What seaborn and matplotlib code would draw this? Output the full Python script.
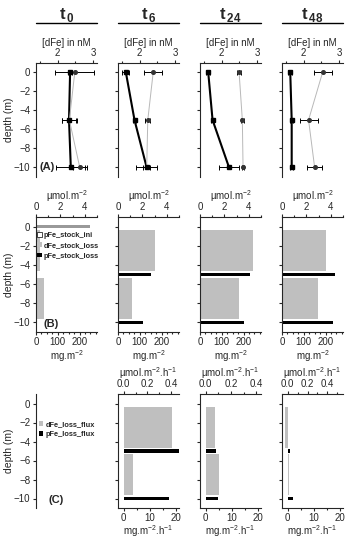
import numpy as np
import pandas as pd
import matplotlib
matplotlib.use("Agg")
import matplotlib.pyplot as plt
import seaborn as sns
from matplotlib.lines import Line2D
from matplotlib.patches import Patch

sns.set_style("ticks")
plt.rcParams['font.family'] = ['Liberation Sans', 'DejaVu Sans']
plt.rcParams['mathtext.fontset'] = 'custom'
plt.rcParams['mathtext.rm'] = 'Liberation Sans'
plt.rcParams['mathtext.bf'] = 'Liberation Sans:bold'
plt.rcParams['axes.linewidth'] = 0.8

#############################################################################
# data
times = ['0', '6', '24', '48']
depths = [0, -5, -10]
layers = [-2.5, -7.5]          # centre of the 0-5 m and 5-10 m layers
bottoms = [-5, -10]

# (A) dFe profiles, nM
dfe_dark = [[2.35, 2.32, 2.37], [1.62, 1.86, 2.20], [1.63, 1.75, 2.21], [1.63, 1.67, 1.67]]
dfe_dark_err = [[0.05, 0.20, 0.40], [0.10, 0.05, 0.30], [0.05, 0.05, 0.27], [0.05, 0.05, 0.05]]
dfe_light = [[2.48, 2.33, 2.62], [2.38, 2.23, 2.20], [2.49, 2.58, 2.60], [2.53, 2.14, 2.31]]
dfe_light_err = [[0.55, 0.20, 0.20], [0.25, 0.07, 0.10], [0.06, 0.05, 0.02], [0.25, 0.25, 0.20]]

# (B) stocks, mg.m-2
pfe_stock_ini = [250, 0, 0, 0]
dfe_stock_loss = [[18, 36], [169, 63], [243, 177], [203, 164]]
pfe_stock_loss = [[0, 0], [151, 115], [228, 203], [245, 233]]

# (C) loss fluxes, mg.m-2.h-1 (t6, t24, t48)
dfe_loss_flux = [[18.4, 3.4], [3.5, 5.0], [-1.0, 0.3]]
pfe_loss_flux = [[21.5, 17.1], [4.0, 4.6], [1.0, 1.9]]
flux_ratio = [45.0, 48.0, 37.5]   # mg per umol on the top axis
stock_ratio = 55.85

#############################################################################
fig = plt.figure(figsize=(3.46, 5.40), dpi=100)
W, H = 346., 540.
lefts = [36, 118, 200, 282]
aw = 61
row_tb = {'A': (63, 177), 'B': (217, 332), 'C': (394, 508)}

light = '#bfbfbf'
fs = 7


def make_ax(col, row):
    top, bot = row_tb[row]
    return fig.add_axes([lefts[col] / W, 1 - bot / H, aw / W, (bot - top) / H])


def depth_axis(ax, col):
    ax.set_ylim(-11, 1)
    ax.set_yticks([0, -2, -4, -6, -8, -10])
    ax.tick_params(axis='y', length=2.5, width=0.8, labelsize=fs, pad=1.5)
    ax.spines['right'].set_visible(False)
    if col == 0:
        ax.set_yticklabels(['0', '−2', '−4', '−6', '−8', '−10'])
        ax.set_ylabel('depth (m)', fontsize=7.5)
        ax.yaxis.set_label_coords(-0.36, 0.5)
    else:
        ax.set_yticklabels([])
        ax.set_ylabel('')
    ax.set_xlabel('')


def x_ticks(axis_obj):
    axis_obj.tick_params(axis='x', which='major', length=2.5, width=0.8, labelsize=fs, pad=0.8)
    axis_obj.tick_params(axis='x', which='minor', length=1.5, width=0.8)


# titles with lines
for i, t in enumerate(times):
    cx = (lefts[i] + aw / 2) / W
    fig.text(cx, 1 - 15 / H, r'$\mathbf{t}_{\,\mathbf{' + t + '}}$', ha='center', va='center', fontsize=12)
    fig.add_artist(Line2D([lefts[i] / W, (lefts[i] + aw) / W], [1 - 23 / H, 1 - 23 / H],
                          transform=fig.transFigure, color='black', lw=1.0))

# (A)
for i in range(4):
    ax = make_ax(i, 'A')
    df = pd.DataFrame({'depth': depths * 2,
                       'dfe': dfe_dark[i] + dfe_light[i],
                       'series': ['dark'] * 3 + ['light'] * 3})
    sns.lineplot(data=df, x='dfe', y='depth', hue='series', palette={'dark': 'black', 'light': '#b8b8b8'},
                 size='series', sizes={'dark': 1.5, 'light': 0.7}, sort=False, orient='y',
                 legend=False, ax=ax)
    ax.errorbar(dfe_light[i], depths, xerr=dfe_light_err[i], fmt='o', ms=2.6, color='#333333',
                ecolor='black', elinewidth=0.7, capsize=1.8, capthick=0.7)
    ax.errorbar(dfe_dark[i], depths, xerr=dfe_dark_err[i], fmt='s', ms=3, color='black',
                ecolor='black', elinewidth=0.7, capsize=1.8, capthick=0.7)
    ax.set_xlim(1.4, 3.1)
    ax.xaxis.tick_top()
    ax.xaxis.set_label_position('top')
    ax.set_xticks([2, 3])
    ax.set_xticks([1.5, 2.5], minor=True)
    ax.tick_params(axis='x', which='both', top=True, bottom=False)
    x_ticks(ax)
    ax.spines['bottom'].set_visible(False)
    depth_axis(ax, i)
    ax.set_xlabel('[dFe] in nM', fontsize=fs, labelpad=2)
    if i == 0:
        ax.text(0.05, -10, '(A)', transform=ax.get_yaxis_transform(), fontsize=8,
                fontweight='bold', va='center', ha='left')

# (B)
for i in range(4):
    ax = make_ax(i, 'B')
    if pfe_stock_ini[i] > 0:
        ax.barh([0], [pfe_stock_ini[i]], height=0.35, color='#999999', linewidth=0)
    ax.barh(layers, dfe_stock_loss[i], height=4.35, color=light, linewidth=0)
    ax.barh(bottoms, pfe_stock_loss[i], height=0.35, color='black', linewidth=0)
    ax.set_xlim(0, 280)
    ax.set_xticks([0, 100, 200])
    ax.set_xticks([25, 50, 75, 125, 150, 175, 225, 250, 275], minor=True)
    x_ticks(ax)
    depth_axis(ax, i)
    ax.set_xlabel(r'mg.m$^{-2}$', fontsize=fs, labelpad=1)
    ax.spines['top'].set_visible(False)
    sec = ax.secondary_xaxis('top', functions=(lambda x: x / stock_ratio, lambda x: x * stock_ratio))
    sec.set_xticks([0, 2, 4])
    sec.set_xticks([1, 3, 5], minor=True)
    x_ticks(sec)
    sec.set_xlabel(r'µmol.m$^{-2}$', fontsize=fs, labelpad=2)
    if i == 0:
        ax.text(0.12, -10.2, '(B)', transform=ax.get_yaxis_transform(), fontsize=8,
                fontweight='bold', va='center', ha='left')
        handles = [Patch(facecolor='white', edgecolor='black', linewidth=0.5),
                   Patch(facecolor=light, edgecolor='none'),
                   Patch(facecolor='black', edgecolor='none')]
        ax.legend(handles, ['pFe_stock_ini', 'dFe_stock_loss', 'pFe_stock_loss'],
                  loc='upper left', bbox_to_anchor=(0.02, 0.87), frameon=False,
                  prop={'size': 5.3, 'weight': 'bold'}, handlelength=0.6, handleheight=0.6,
                  handletextpad=0.3, labelspacing=0.45, borderaxespad=0, borderpad=0)

# (C)
for i in range(4):
    ax = make_ax(i, 'C')
    depth_axis(ax, i)
    if i == 0:
        ax.spines['top'].set_visible(False)
        ax.spines['bottom'].set_visible(False)
        ax.set_xticks([])
        ax.text(0.2, -10.2, '(C)', transform=ax.get_yaxis_transform(), fontsize=8,
                fontweight='bold', va='center', ha='left')
        handles = [Patch(facecolor=light, edgecolor='none'),
                   Patch(facecolor='black', edgecolor='none')]
        ax.legend(handles, ['dFe_loss_flux', 'pFe_loss_flux'],
                  loc='upper left', bbox_to_anchor=(0.05, 0.76), frameon=False,
                  prop={'size': 5.3, 'weight': 'bold'}, handlelength=0.6, handleheight=0.6,
                  handletextpad=0.3, labelspacing=0.35, borderaxespad=0, borderpad=0)
        continue
    k = i - 1
    ax.barh(layers, dfe_loss_flux[k], height=4.35, color=light, linewidth=0)
    ax.barh(bottoms, pfe_loss_flux[k], height=0.35, color='black', linewidth=0)
    ax.set_xlim(-2.2, 21.0)
    ax.set_xticks([0, 10, 20])
    ax.set_xticks([5, 15], minor=True)
    x_ticks(ax)
    ax.set_xlabel(r'mg.m$^{-2}$.h$^{-1}$', fontsize=fs, labelpad=0.5)
    ax.spines['top'].set_visible(False)
    r = flux_ratio[k]
    sec = ax.secondary_xaxis('top', functions=(lambda x, r=r: x / r, lambda x, r=r: x * r))
    sec.set_xticks([0.0, 0.2, 0.4])
    sec.set_xticks([0.1, 0.3, 0.5], minor=True)
    sec.set_xticklabels(['0.0', '0.2', '0.4'])
    x_ticks(sec)
    sec.set_xlabel(r'µmol.m$^{-2}$.h$^{-1}$', fontsize=fs, labelpad=2)

fig.savefig('out.png', dpi=100)
